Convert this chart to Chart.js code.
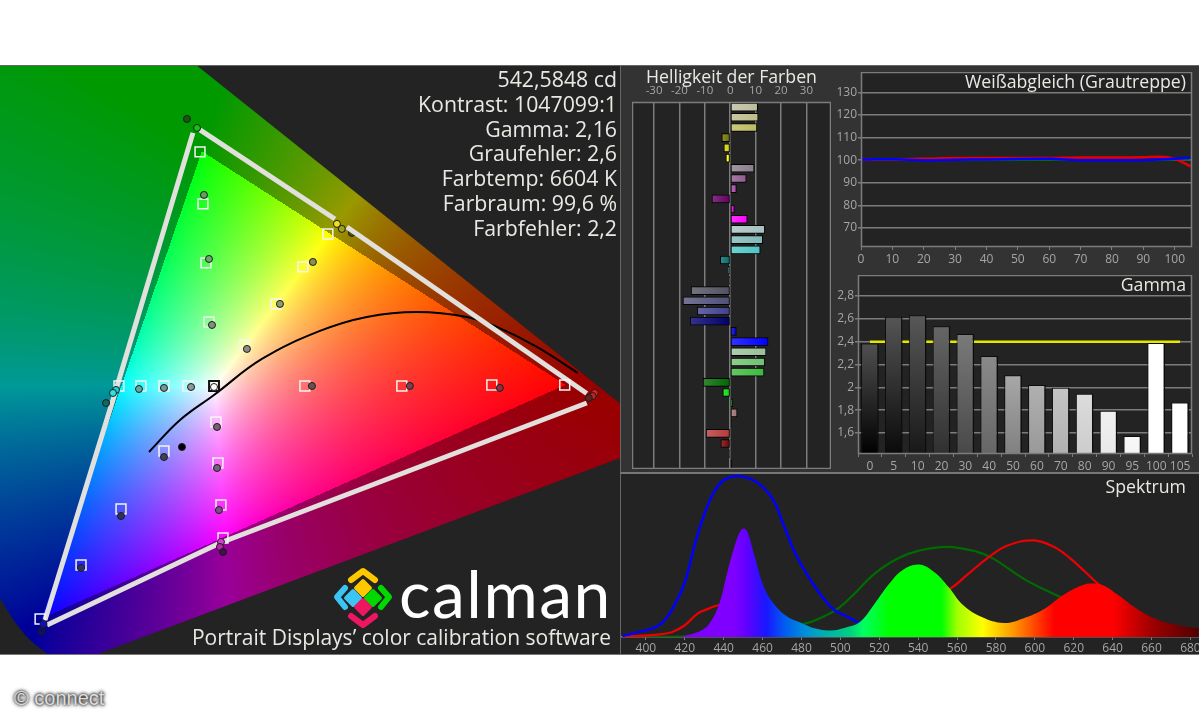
<!DOCTYPE html>
<html>
<head>
<meta charset="utf-8">
<script src="https://cdn.jsdelivr.net/npm/chart.js@4/dist/chart.umd.js"></script>
<style>
  html, body { margin: 0; padding: 0; background: #fff; width: 1199px; height: 720px; overflow: hidden; }
  .box, canvas, .txt { position: absolute; }
  .txt { font-family: "Open Sans", sans-serif; color: #e9e9e4; white-space: nowrap; line-height: 1; }
  .stat { right: 582px; font-size: 21.3px; }
  .head { font-size: 17.7px; }
</style>
</head>
<body>
<div class="box" style="left:0;top:65px;width:620px;height:590px;background:#232323;border-top:1px solid #666;border-bottom:1px solid #777;box-sizing:border-box"></div>
<div class="box" style="left:620px;top:65px;width:579px;height:408px;background:#333;border-top:1px solid #666;border-left:1px solid #666;box-sizing:border-box"></div>
<div class="box" style="left:620px;top:472px;width:579px;height:183px;background:#232323;border-top:2px solid #777;border-left:1px solid #666;border-bottom:1px solid #777;box-sizing:border-box"></div>

<canvas id="cie" width="620" height="588" style="left:0;top:66px"></canvas>
<canvas id="bright" width="199" height="385" style="left:632px;top:84px"></canvas>
<canvas id="white" width="368" height="197" style="left:831px;top:72px"></canvas>
<canvas id="gamma" width="368" height="200" style="left:831px;top:275px"></canvas>
<canvas id="spectrum" width="578" height="180" style="left:621px;top:474px"></canvas>

<div class="txt stat" style="top:68px">542,5848 cd</div>
<div class="txt stat" style="top:93px">Kontrast: 1047099:1</div>
<div class="txt stat" style="top:118px">Gamma: 2,16</div>
<div class="txt stat" style="top:142px">Graufehler: 2,6</div>
<div class="txt stat" style="top:167px">Farbtemp: 6604 K</div>
<div class="txt stat" style="top:192px">Farbraum: 99,6 %</div>
<div class="txt stat" style="top:217px">Farbfehler: 2,2</div>

<div class="txt head" style="left:646px;top:68px">Helligkeit der Farben</div>
<div class="txt head" style="right:13px;top:73px">Weißabgleich (Grautreppe)</div>
<div class="txt head" style="right:13px;top:276px">Gamma</div>
<div class="txt head" style="right:13px;top:478px">Spektrum</div>

<svg class="box" style="left:330px;top:564px" width="68" height="68" viewBox="0 0 68 68">
  <g fill="#fdc800"><rect x="-8" y="-8" width="16" height="16" rx="2" transform="translate(33 24) rotate(45) scale(.85)"/></g>
  <g fill="#3cc4f4"><rect x="-8" y="-8" width="16" height="16" rx="2" transform="translate(23 34) rotate(45) scale(.85)"/></g>
  <g fill="#00d800"><rect x="-8" y="-8" width="16" height="16" rx="2" transform="translate(43 34) rotate(45) scale(.85)"/></g>
  <g fill="#ee1660"><rect x="-8" y="-8" width="16" height="16" rx="2" transform="translate(33 43) rotate(45) scale(.85)"/></g>
  <g fill="none" stroke-width="6" stroke-linejoin="round" stroke-linecap="round">
    <path d="M21 16 L33 7 L45 16" stroke="#fdc800"/>
    <path d="M15 24 L7 33 L15 43" stroke="#3cc4f4"/>
    <path d="M51 24 L59 33 L51 43" stroke="#00d800"/>
    <path d="M21 52 L33 61 L45 52" stroke="#ee1660"/>
  </g>
</svg>
<div class="txt" style="left:399px;top:560px;font-family:Lato,sans-serif;font-size:66px;letter-spacing:1.5px;color:#fff">calman</div>
<div class="txt" style="right:588px;top:627px;font-size:21px">Portrait Displays’ color calibration software</div>
<div class="txt" style="left:14px;top:688px;font-family:'Liberation Sans',sans-serif;font-size:20px;color:#ddd;text-shadow:0 0 4px #000,0 0 3px #000">© connect</div>

<script>
// --- CIE xy diagram ---
const locusX = [0.05, 0.0454, 0.0913, 0.1096, 0.1241, 0.1355, 0.144, 0.1566, 0.1741, 0.735, 0.2];
const locusY = [0.8, 0.295, 0.1327, 0.0868, 0.0578, 0.0399, 0.0297, 0.0177, 0.005, 0.265, 0.793];

const targetX = [0.2987, 0.3015, 0.3043, 0.3071, 0.3136, 0.3155, 0.3183, 0.3202, 0.1491, 0.1874, 0.2248, 0.265, 0.3968, 0.4875, 0.5717, 0.6399, 0.2229, 0.2435, 0.265, 0.2874, 0.3407, 0.3697, 0.395, 0.4183];
const targetY = [0.5987, 0.5386, 0.4704, 0.4022, 0.2866, 0.2392, 0.1906, 0.1525, 0.0588, 0.1213, 0.186, 0.2531, 0.3282, 0.3282, 0.3293, 0.3293, 0.3282, 0.3282, 0.3282, 0.3282, 0.3756, 0.423, 0.4658, 0.5039];
const whiteTargetX = [0.3118];
const whiteTargetY = [0.3282];

const measuredX = [0.2865, 0.2959, 0.3024, 0.3071, 0.3099, 0.4043, 0.3735, 0.3426, 0.2201, 0.2173, 0.2108, 0.2416, 0.265, 0.2903, 0.3118, 0.4034, 0.3146, 0.3146, 0.3164, 0.3183, 0.3174, 0.3202, 0.265, 0.2248, 0.2818, 0.4268, 0.4314, 0.495, 0.5792, 0.668, 0.6661, 0.6624, 0.1874, 0.1505, 0.1523];
const measuredY = [0.6368, 0.6264, 0.549, 0.475, 0.3987, 0.4715, 0.423, 0.371, 0.3236, 0.3201, 0.3085, 0.3247, 0.3259, 0.327, 0.327, 0.3282, 0.2808, 0.2334, 0.1848, 0.1479, 0.1421, 0.1363, 0.2461, 0.1779, 0.2577, 0.5155, 0.5097, 0.3282, 0.3259, 0.3201, 0.3166, 0.3143, 0.1178, 0.045, 0.0531];
const measuredColors = ['#0f5a0f', '#12c412', '#5f9f5f', '#6fa56f', '#808f80', '#8a9050', '#8f9a70', '#8c8c80', '#20d0d0', '#30e0e0', '#0f6a60', '#5faaa0', '#6f9a98', '#8a9a98', '#ffffff', '#6a5050', '#756078', '#7a5f80', '#7a5088', '#d040d0', '#c020b0', '#40104a', '#40405a', '#30305a', '#000000', '#f0e020', '#a0a020', '#7a4050', '#8a3040', '#e02020', '#c02020', '#602020', '#303070', '#10105a', '#1010c0'];
// this one sits under the white gamut line
const coveredX = [0.4408];
const coveredY = [0.5051];

const gamutGCBX = [0.2921, 0.2178, 0.1537];
const gamutGCBY = [0.6207, 0.3143, 0.0577];
const gamutGYX = [0.2987, 0.4249];
const gamutGYY = [0.6241, 0.5212];
const gamutYRX = [0.4361, 0.6605];
const gamutYRY = [0.512, 0.3195];
const gamutBMRX = [0.1556, 0.3174, 0.6605];
const gamutBMRY = [0.0519, 0.1467, 0.3085];

const blackbodyX = [0.251, 0.28, 0.3118, 0.3566, 0.4109, 0.4548, 0.5016, 0.5483, 0.5764, 0.6138, 0.6521];
const blackbodyY = [0.2519, 0.2889, 0.3178, 0.3594, 0.3918, 0.408, 0.4137, 0.408, 0.3964, 0.3733, 0.3432];

// --- Helligkeit der Farben ---
const brightTicks = [-30, -20, -10, 0, 10, 20, 30];
const brightRows = ['c1', 'c2', 'c3', 'c4', 'c5', 'c6', 'c7', 'c8', 'c9', 'c10', 'c11', 'c12', 'c13', 'c14', 'c15', 'c16', 'c17', 'c18', 'c19', 'c20', 'c21', 'c22', 'c23', 'c24', 'c25', 'c26', 'c27', 'c28', 'c29', 'c30', 'c31', 'c32', 'c33', 'c34', 'c35', 'c36'];
const brightValues = [10.8, 11, 10.5, -3.3, -2.5, -1.7, 9.4, 6.3, 2.4, -7.2, 1.6, 6.7, 13.6, 12.8, 11.8, -3.9, -0.8, -0.4, -15.4, -18.6, -13, -15.8, 2.4, 14.9, 14.1, 13.6, 13.3, -10.7, -2.9, 0.9, 2.7, 0.4, -9.5, -3.7, -0.4, 0.6];
const brightColors = ['#bcbc9c', '#bcbc88', '#bcbc60', '#707000', '#d0d000', '#ffff00', '#8c7c8c', '#905c90', '#a848a8', '#600060', '#e000e0', '#ff00ff', '#a8c0c0', '#80b8b8', '#50c4c4', '#006c6c', '#00a0a0', '#000000', '#505060', '#505078', '#404090', '#00006c', '#0000d0', '#0000ff', '#98c098', '#70c070', '#40b840', '#006800', '#00e000', '#00c000', '#a07070', '#000000', '#b83838', '#700000', '#000000', '#000000'];

// --- Weißabgleich ---
const whiteSteps = [0, 5, 10, 20, 30, 40, 50, 60, 70, 80, 90, 95, 100, 105];
const whiteTicksX = [0, 10, 20, 30, 40, 50, 60, 70, 80, 90, 100];
const whiteTicksY = [70, 80, 90, 100, 110, 120, 130];
const whiteRed = [100.2, 100.4, 100.4, 100.6, 101, 101, 101, 101, 101.2, 101.2, 101.3, 101.5, 100.6, 97.3];
const whiteGreen = [100.2, 100.2, 100.2, 100, 100, 100, 100, 100, 100, 100, 100, 100, 100.2, 100.4];
const whiteBlue = [100.3, 100.4, 100.4, 100, 100.2, 100.3, 100.5, 100.6, 100, 100, 100, 100.3, 100.6, 101.2];

// --- Gamma ---
const gammaLabels = ['0', '5', '10', '20', '30', '40', '50', '60', '70', '80', '90', '95', '100', '105'];
const gammaValues = [2.385, 2.618, 2.632, 2.535, 2.468, 2.274, 2.106, 2.02, 1.997, 1.944, 1.794, 1.573, 2.388, 1.868];
const gammaTarget = [2.4, 2.4, 2.4, 2.4, 2.4, 2.4, 2.4, 2.4, 2.4, 2.4, 2.4, 2.4, 2.4, 2.4];
const gammaTicks = [1.6, 1.8, 2, 2.2, 2.4, 2.6, 2.8];
const gammaBottom = ['#000000', '#0a0a0a', '#181818', '#303030', '#484848', '#666666', '#808080', '#999999', '#b0b0b0', '#cccccc', '#e8e8e8', '#f4f4f4', '#ffffff', '#ffffff'];
const gammaTop = ['#505050', '#555555', '#585858', '#666666', '#7a7a7a', '#8a8a8a', '#a8a8a8', '#b0b0b0', '#c4c4c4', '#dcdcdc', '#f0f0f0', '#f8f8f8', '#ffffff', '#ffffff'];

// --- Spektrum ---
const spectrumTicks = [400, 420, 440, 460, 480, 500, 520, 540, 560, 580, 600, 620, 640, 660, 680];
const blueNm = [388, 396, 405.7, 411, 415, 420, 425.7, 430.5, 435, 440, 446.7, 453, 460, 466, 470.5, 476, 481, 486, 490.7, 497, 503, 510, 520, 540, 560, 684];
const blueLevel = [0.6, 3, 6.6, 12.4, 20.7, 34, 60, 77.8, 90, 97.4, 100, 98.5, 93.4, 84, 70.5, 54, 42.6, 33, 24.9, 16.6, 13, 8.7, 4, 1.5, 0.5, 0];
const redNm = [388, 405.7, 413.3, 420, 426.6, 432.3, 438, 450, 465, 480, 500, 520, 540, 556.5, 565, 576.5, 586, 599.3, 609.7, 618.2, 625.8, 633.4, 650, 684];
const redLevel = [0.2, 1.5, 3, 7.3, 14.5, 17.6, 19.7, 18, 8, 3, 2, 8, 20, 30, 38.4, 49.8, 56.8, 60, 56, 48.8, 40.5, 32, 15, 3];
const greenNm = [388, 420, 440, 460, 470, 481.6, 489, 498.7, 508.2, 517.6, 530, 540, 555, 570, 578.4, 595.4, 614.4, 633, 660, 684];
const greenLevel = [0, 0.3, 1, 4, 6, 8.3, 11.4, 17.6, 28, 39.4, 49, 53.5, 56, 53, 48.8, 35.3, 23.9, 12, 3, 1];
const lightNm = [419, 428.5, 433.2, 438, 441.7, 445.5, 448.4, 450.3, 452.2, 456, 460.7, 466.4, 473, 479.7, 487.3, 494.9, 502.5, 510, 517.6, 525.2, 531.9, 540.4, 548, 555.6, 563.2, 572.7, 584, 593.6, 605, 614.4, 624, 629.6, 635.3, 643, 652.4, 662, 671.4, 684.3];
const lightLevel = [0.4, 4.1, 9.3, 21.8, 39.4, 56, 65.4, 67.4, 65.4, 49.8, 31.1, 19.7, 12.4, 8.9, 5.2, 4.1, 5.8, 9.3, 20.7, 33.2, 41.5, 45, 40.5, 31.1, 19.7, 12.4, 8.7, 11.4, 17.6, 25.9, 32, 33.2, 32, 25.9, 17.6, 11.4, 7.9, 5.2];
const rainbowNm = [419, 445, 452, 462, 472, 482, 492, 505, 512, 525, 552, 560, 573, 590, 603, 610, 640, 660, 684];
const rainbowColors = ['#8000ff', '#8000ff', '#6000ff', '#1818ff', '#0060f0', '#0090d8', '#00b0b0', '#00d080', '#00ff60', '#00ff00', '#00ff00', '#a0ff00', '#ffff00', '#ff9000', '#ff3000', '#ff0000', '#ff0000', '#a00000', '#500000'];

Chart.defaults.font.family = '"Open Sans", sans-serif';
Chart.defaults.font.size = 12;
Chart.defaults.color = '#a6a6a6';
Chart.defaults.animation = false;
Chart.defaults.responsive = false;
Chart.defaults.devicePixelRatio = 1;
Chart.defaults.layout.autoPadding = false;
Chart.defaults.plugins.legend.display = false;
Chart.defaults.plugins.tooltip.enabled = false;

const GRID = '#7c7c7c';

function zipXY(xs, ys) { return xs.map((v, i) => ({ x: v, y: ys[i] })); }
function useTicks(list) { return s => { s.ticks = list.map(v => ({ value: v })); }; }
function mixWhite(hex, k) {
  const n = parseInt(hex.slice(1), 16);
  const c = [n >> 16, (n >> 8) & 255, n & 255].map(v => Math.round(v + (255 - v) * k));
  return `rgb(${c[0]},${c[1]},${c[2]})`;
}

// dark plot background and frame
const plotFrame = {
  id: 'plotFrame',
  beforeDraw(chart) {
    const { ctx, chartArea: a } = chart;
    ctx.fillStyle = '#232323';
    ctx.fillRect(a.left, a.top, a.width, a.height);
  },
  afterDatasetsDraw(chart) {
    const { ctx, chartArea: a } = chart;
    ctx.strokeStyle = GRID;
    ctx.lineWidth = 1.5;
    ctx.strokeRect(a.left + 0.5, a.top + 0.5, a.width - 1, a.height - 1);
  }
};

// xy colour field, bright inside the Rec.709 triangle and dimmed outside it
const gamutField = {
  id: 'gamutField',
  beforeDatasetsDraw(chart) {
    const { ctx, chartArea: a, scales: { x, y } } = chart;
    const w = Math.round(a.width), h = Math.round(a.height);
    const off = document.createElement('canvas');
    off.width = w; off.height = h;
    const octx = off.getContext('2d');
    const img = octx.createImageData(w, h);
    for (let j = 0; j < h; j++) {
      const cy = y.getValueForPixel(a.top + j);
      for (let i = 0; i < w; i++) {
        const cx = x.getValueForPixel(a.left + i);
        const X = cx / cy, Z = (1 - cx - cy) / cy;
        let r = 3.2406 * X - 1.5372 - 0.4986 * Z;
        let g = -0.9689 * X + 1.8758 + 0.0415 * Z;
        let b = 0.0557 * X - 0.204 + 1.057 * Z;
        const outside = r < 0 || g < 0 || b < 0;
        r = Math.max(r, 0); g = Math.max(g, 0); b = Math.max(b, 0);
        const m = Math.max(r, g, b);
        const dim = outside ? 0.6 : 1;
        const p = (j * w + i) * 4;
        img.data[p] = 255 * dim * Math.pow(r / m, 0.85);
        img.data[p + 1] = 255 * dim * Math.pow(g / m, 0.85);
        img.data[p + 2] = 255 * dim * Math.pow(b / m, 0.85);
        img.data[p + 3] = 255;
      }
    }
    octx.putImageData(img, 0, 0);
    ctx.save();
    ctx.beginPath();
    locusX.forEach((v, i) => ctx.lineTo(x.getPixelForValue(v), y.getPixelForValue(locusY[i])));
    ctx.closePath();
    ctx.clip();
    ctx.drawImage(off, a.left, a.top);
    ctx.restore();
  }
};

function gamutLine(xs, ys) {
  return { data: zipXY(xs, ys), showLine: true, pointRadius: 0, borderColor: '#e2e0dd', borderWidth: 5, order: 3 };
}

new Chart(document.getElementById('cie'), {
  type: 'scatter',
  plugins: [gamutField],
  data: {
    datasets: [
      { data: zipXY(measuredX, measuredY), pointRadius: 3.5, backgroundColor: measuredColors, borderColor: '#1c1c1c', borderWidth: 1, order: 1 },
      { data: zipXY(targetX, targetY), pointStyle: 'rect', pointRadius: 7, backgroundColor: 'transparent', borderColor: '#f4f4f4', borderWidth: 1.5, order: 2 },
      { data: zipXY(whiteTargetX, whiteTargetY), pointStyle: 'rect', pointRadius: 7, backgroundColor: 'transparent', borderColor: '#111', borderWidth: 2, order: 2 },
      gamutLine(gamutGCBX, gamutGCBY),
      gamutLine(gamutGYX, gamutGYY),
      gamutLine(gamutYRX, gamutYRY),
      gamutLine(gamutBMRX, gamutBMRY),
      { data: zipXY(coveredX, coveredY), pointRadius: 3.5, backgroundColor: '#505010', borderColor: '#1c1c1c', borderWidth: 1, order: 4 },
      { data: zipXY(blackbodyX, blackbodyY), showLine: true, pointRadius: 0, tension: 0.4, borderColor: '#000', borderWidth: 2, order: 5 }
    ]
  },
  options: {
    scales: {
      x: { type: 'linear', display: false, min: 0.1116, max: 0.6916 },
      y: { type: 'linear', display: false, min: 0.0184, max: 0.698 }
    }
  }
});

new Chart(document.getElementById('bright'), {
  type: 'bar',
  plugins: [plotFrame],
  data: {
    labels: brightRows,
    datasets: [{
      data: brightValues,
      barThickness: 8,
      borderColor: '#000',
      borderWidth: 1,
      borderSkipped: false,
      backgroundColor(c) {
        const col = brightColors[c.dataIndex];
        if (c.raw === undefined || !c.chart.chartArea) return '#000';
        const xs = c.chart.scales.x;
        const z = xs.getPixelForValue(0), p = xs.getPixelForValue(c.raw);
        const g = c.chart.ctx.createLinearGradient(Math.min(z, p), 0, Math.max(z, p) + 0.01, 0);
        g.addColorStop(0, mixWhite(col, 0.2));
        g.addColorStop(1, col);
        return g;
      }
    }]
  },
  options: {
    indexAxis: 'y',
    scales: {
      x: {
        position: 'top', min: -38.7, max: 39.7,
        afterBuildTicks: useTicks(brightTicks),
        afterFit: s => { s.height = 18; s.paddingLeft = s.paddingRight = 0; },
        grid: { color: GRID, lineWidth: 1.5, drawTicks: false },
        border: { display: false },
        ticks: { padding: 4, maxRotation: 0, autoSkip: false, font: { size: 11.5 } }
      },
      y: { display: false }
    }
  }
});

function whiteLine(ys, color, width) {
  return { data: zipXY(whiteSteps, ys), showLine: true, pointRadius: 0, cubicInterpolationMode: 'monotone', borderColor: color, borderWidth: width };
}

new Chart(document.getElementById('white'), {
  type: 'scatter',
  plugins: [plotFrame],
  data: {
    datasets: [
      Object.assign(whiteLine(whiteBlue, '#0000ff', 2.5), { order: 1 }),
      Object.assign(whiteLine(whiteRed, '#e80000', 2.5), { order: 2 }),
      Object.assign(whiteLine(whiteGreen, '#007000', 1.5), { order: 3 })
    ]
  },
  options: {
    layout: { padding: { right: 7 } },
    scales: {
      x: {
        type: 'linear', min: 0, max: 105.5,
        afterBuildTicks: useTicks(whiteTicksX),
        afterFit: s => { s.height = 22; s.paddingLeft = s.paddingRight = 0; },
        grid: { drawOnChartArea: false, color: GRID, tickLength: 3 },
        border: { display: false },
        ticks: { padding: 2, maxRotation: 0, autoSkip: false }
      },
      y: {
        type: 'linear', min: 61.6, max: 139,
        afterBuildTicks: useTicks(whiteTicksY),
        afterFit: s => { s.width = 30; s.paddingTop = s.paddingBottom = 0; },
        grid: { color: GRID, lineWidth: 1.5, tickLength: 3 },
        border: { display: false },
        ticks: { padding: 1, autoSkip: false }
      }
    }
  }
});

new Chart(document.getElementById('gamma'), {
  type: 'bar',
  plugins: [plotFrame],
  data: {
    labels: gammaLabels,
    datasets: [
      {
        data: gammaValues,
        order: 1,
        barPercentage: 0.74,
        categoryPercentage: 1,
        borderColor: '#0c0c0c',
        borderWidth: { top: 1, right: 1.5, left: 1 },
        borderSkipped: 'bottom',
        backgroundColor(c) {
          if (c.raw === undefined || !c.chart.chartArea) return '#000';
          const ys = c.chart.scales.y;
          const g = c.chart.ctx.createLinearGradient(0, ys.getPixelForValue(c.raw), 0, ys.bottom);
          g.addColorStop(0, gammaTop[c.dataIndex]);
          g.addColorStop(1, gammaBottom[c.dataIndex]);
          return g;
        }
      },
      { type: 'line', data: gammaTarget, order: 2, pointRadius: 0, borderColor: '#e6e600', borderWidth: 2.5 }
    ]
  },
  options: {
    layout: { padding: { right: 7 } },
    scales: {
      x: {
        afterFit: s => { s.height = 21; s.paddingLeft = s.paddingRight = 0; },
        grid: { drawOnChartArea: false, color: GRID, tickLength: 3 },
        border: { display: false },
        ticks: { padding: 2, maxRotation: 0, autoSkip: false }
      },
      y: {
        min: 1.416, max: 2.984,
        afterBuildTicks: useTicks(gammaTicks),
        afterFit: s => { s.width = 27; s.paddingTop = s.paddingBottom = 0; },
        grid: { color: GRID, lineWidth: 1.5, tickLength: 3 },
        border: { display: false },
        ticks: { padding: 1, autoSkip: false, callback: v => String(v).replace('.', ',') }
      }
    }
  }
});

function spectrumLine(xs, ys, color, width, order) {
  return { data: zipXY(xs, ys), showLine: true, pointRadius: 0, tension: 0.4, borderColor: color, borderWidth: width, order };
}

new Chart(document.getElementById('spectrum'), {
  type: 'scatter',
  data: {
    datasets: [
      {
        data: zipXY(lightNm, lightLevel),
        showLine: true, pointRadius: 0, tension: 0.4, fill: 'origin', borderWidth: 0, order: 1,
        backgroundColor(c) {
          if (!c.chart.chartArea) return 'transparent';
          const xs = c.chart.scales.x;
          const g = c.chart.ctx.createLinearGradient(xs.left, 0, xs.right, 0);
          const span = xs.right - xs.left;
          rainbowNm.forEach((nm, i) => {
            const t = (xs.getPixelForValue(nm) - xs.left) / span;
            g.addColorStop(Math.min(Math.max(t, 0), 1), rainbowColors[i]);
          });
          return g;
        }
      },
      spectrumLine(blueNm, blueLevel, '#0000ff', 2.5, 2),
      spectrumLine(redNm, redLevel, '#ee0000', 2.2, 3),
      spectrumLine(greenNm, greenLevel, '#006c00', 2.2, 4)
    ]
  },
  options: {
    scales: {
      x: {
        type: 'linear', min: 387.2, max: 684.4,
        afterBuildTicks: useTicks(spectrumTicks),
        afterFit: s => { s.height = 17; s.paddingLeft = s.paddingRight = 0; },
        grid: { drawOnChartArea: false, color: GRID, tickLength: 3 },
        border: { color: GRID, width: 1.5 },
        ticks: { padding: 1, maxRotation: 0, autoSkip: false }
      },
      y: { type: 'linear', display: false, min: 0, max: 101.2 }
    }
  }
});
</script>
</body>
</html>
